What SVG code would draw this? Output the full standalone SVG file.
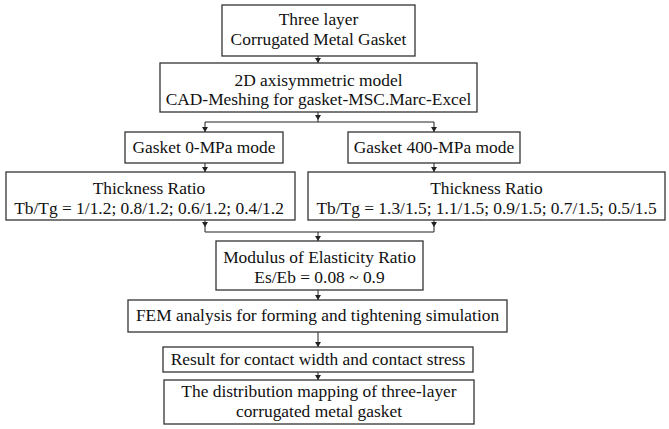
<svg xmlns="http://www.w3.org/2000/svg" width="669" height="429" viewBox="0 0 669 429">
<style>
.box{fill:#fff;stroke:#333;stroke-width:1.3}
.t{font-family:"Liberation Serif","Times New Roman",serif;font-size:17.4px;fill:#111;text-anchor:middle}
.c{fill:none;stroke:#222;stroke-width:1}
</style>
<defs>
<marker id="ah" markerWidth="6" markerHeight="6" refX="5" refY="3" orient="auto" markerUnits="userSpaceOnUse">
<path d="M0,0 L5,3 L0,6 Z" fill="#222"/>
</marker>
</defs>
<rect width="669" height="429" fill="#fff"/>
<g id="connectors">
<path class="c" d="M318,56 V63" marker-end="url(#ah)"/>
<path class="c" d="M318,112 V120" marker-end="url(#ah)"/>
<path class="c" d="M318,120 V122 M205,122 H434"/>
<path class="c" d="M205,122 V132" marker-end="url(#ah)"/>
<path class="c" d="M434,122 V132" marker-end="url(#ah)"/>
<path class="c" d="M205,163 V172" marker-end="url(#ah)"/>
<path class="c" d="M434,163 V172" marker-end="url(#ah)"/>
<path class="c" d="M205,220 V227" marker-end="url(#ah)"/>
<path class="c" d="M434,220 V227" marker-end="url(#ah)"/>
<path class="c" d="M205,227 V232 H434 V227"/>
<path class="c" d="M318,232 V241" marker-end="url(#ah)"/>
<path class="c" d="M318,290 V300" marker-end="url(#ah)"/>
<path class="c" d="M318,332 V347" marker-end="url(#ah)"/>
<path class="c" d="M318,372 V380" marker-end="url(#ah)"/>
</g>
<g id="n1"><rect class="box" x="222" y="5" width="193" height="51"/>
<text class="t" x="318.5" y="25">Three layer</text><text class="t" x="318.5" y="44.5">Corrugated Metal Gasket</text></g>
<g id="n2"><rect class="box" x="160" y="63" width="317" height="49"/>
<text class="t" x="318.5" y="85.5">2D axisymmetric model</text><text class="t" x="318.5" y="105">CAD-Meshing for gasket-MSC.Marc-Excel</text></g>
<g id="n3"><rect class="box" x="125" y="132" width="158" height="31"/>
<text class="t" x="204" y="153">Gasket 0-MPa mode</text></g>
<g id="n4"><rect class="box" x="348" y="132" width="172" height="31"/>
<text class="t" x="434" y="153">Gasket 400-MPa mode</text></g>
<g id="n5"><rect class="box" x="6" y="172" width="289" height="48"/>
<text class="t" x="149" y="194">Thickness Ratio</text><text class="t" x="149" y="213.5">Tb/Tg = 1/1.2; 0.8/1.2; 0.6/1.2; 0.4/1.2</text></g>
<g id="n6"><rect class="box" x="308" y="172" width="357" height="48"/>
<text class="t" x="486.5" y="194">Thickness Ratio</text><text class="t" x="486.5" y="213.5">Tb/Tg = 1.3/1.5; 1.1/1.5; 0.9/1.5; 0.7/1.5; 0.5/1.5</text></g>
<g id="n7"><rect class="box" x="216" y="241" width="207" height="49"/>
<text class="t" x="319.5" y="263">Modulus of Elasticity Ratio</text><text class="t" x="319.5" y="282.5">Es/Eb = 0.08 ~ 0.9</text></g>
<g id="n8"><rect class="box" x="128" y="300" width="379" height="32"/>
<text class="t" x="317.5" y="321">FEM analysis for forming and tightening simulation</text></g>
<g id="n9"><rect class="box" x="163" y="347" width="310" height="25"/>
<text class="t" x="318" y="365">Result for contact width and contact stress</text></g>
<g id="n10"><rect class="box" x="164" y="380" width="310" height="44"/>
<text class="t" x="319" y="397">The distribution mapping of three-layer</text><text class="t" x="319" y="416.5">corrugated metal gasket</text></g>
</svg>
